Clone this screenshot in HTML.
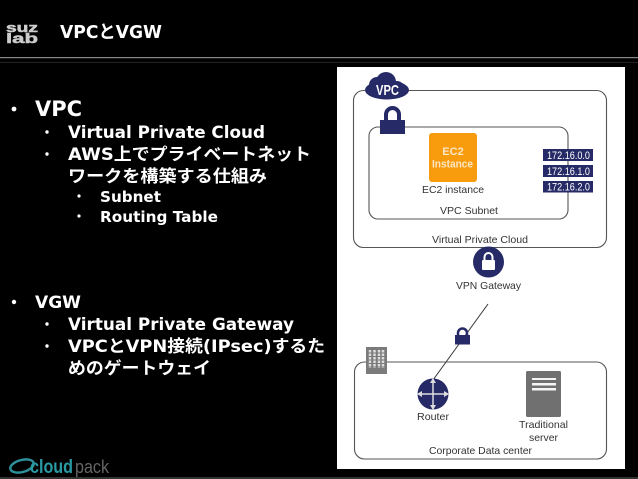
<!DOCTYPE html>
<html><head><meta charset="utf-8"><style>
html,body{margin:0;padding:0;background:#000;width:638px;height:479px;overflow:hidden}
svg{display:block;filter:blur(.3px)}
.t{font-family:"DejaVu Sans","Noto Sans CJK JP",sans-serif;font-weight:bold;fill:#fff}
.d{font-family:"Liberation Sans",sans-serif;font-size:10.500px;fill:#333}
</style></head><body>
<svg width="638" height="479" viewBox="0 0 638 479" xmlns="http://www.w3.org/2000/svg">
<rect width="638" height="479" fill="#000"/>
<rect y="57" width="638" height="1.200" fill="#888"/>
<rect y="62" width="638" height="1" fill="#222"/>
<rect y="477" width="638" height="2" fill="#333"/>
<text x="6" y="32" font-family="'Liberation Sans',sans-serif" font-weight="bold" font-size="13" fill="#ccc" textLength="32" lengthAdjust="spacingAndGlyphs" stroke="#ccc" stroke-width=".5">suz</text>
<text x="6" y="43" font-family="'Liberation Sans',sans-serif" font-weight="bold" font-size="14" fill="#ccc" textLength="32" lengthAdjust="spacingAndGlyphs" stroke="#ccc" stroke-width=".5">lab</text>
<text class="t" x="60" y="38" font-size="18" textLength="102" lengthAdjust="spacingAndGlyphs">VPCとVGW</text>
<g fill="#fff">
<circle cx="14" cy="109" r="2.400"/><circle cx="47" cy="132" r="1.700"/><circle cx="47" cy="154" r="1.700"/><circle cx="79" cy="196" r="1.600"/><circle cx="79" cy="216" r="1.600"/>
<circle cx="14" cy="302" r="2.200"/><circle cx="47" cy="324" r="1.700"/><circle cx="47" cy="346" r="1.700"/>
</g>
<text class="t" x="35" y="116" font-size="21" textLength="47" lengthAdjust="spacingAndGlyphs">VPC</text>
<text class="t" x="68" y="138" font-size="17" textLength="197" lengthAdjust="spacingAndGlyphs">Virtual Private Cloud</text>
<text class="t" x="68" y="160" font-size="17" textLength="243" lengthAdjust="spacingAndGlyphs">AWS上でプライベートネット</text>
<text class="t" x="68" y="182" font-size="17" textLength="199" lengthAdjust="spacingAndGlyphs">ワークを構築する仕組み</text>
<text class="t" x="100" y="202" font-size="15" textLength="61" lengthAdjust="spacingAndGlyphs">Subnet</text>
<text class="t" x="100" y="222" font-size="15" textLength="118" lengthAdjust="spacingAndGlyphs">Routing Table</text>
<text class="t" x="35" y="308" font-size="17" textLength="46" lengthAdjust="spacingAndGlyphs">VGW</text>
<text class="t" x="68" y="330" font-size="17" textLength="226" lengthAdjust="spacingAndGlyphs">Virtual Private Gateway</text>
<text class="t" x="68" y="352" font-size="17" textLength="257" lengthAdjust="spacingAndGlyphs">VPCとVPN接続(IPsec)するた</text>
<text class="t" x="68" y="374" font-size="17" textLength="143" lengthAdjust="spacingAndGlyphs">めのゲートウェイ</text>
<!-- cloudpack logo -->
<ellipse cx="22" cy="466" rx="12" ry="6" fill="none" stroke="#2d8f98" stroke-width="2.500" transform="rotate(-15 22 466)"/>
<text x="30" y="473" font-family="'Liberation Sans',sans-serif" font-weight="bold" font-size="19" fill="#2a9aa5" textLength="43" lengthAdjust="spacingAndGlyphs">cloud</text>
<text x="75" y="473" font-family="'Liberation Sans',sans-serif" font-size="18" fill="#666" textLength="34" lengthAdjust="spacingAndGlyphs">pack</text>
<!-- panel -->
<rect x="337" y="67" width="288" height="402" fill="#fff"/>
<rect x="353.500" y="90.500" width="253" height="157" rx="10" fill="none" stroke="#555" stroke-width="1.100"/>
<rect x="369" y="127" width="199" height="92" rx="9" fill="none" stroke="#555" stroke-width="1.100"/>
<g fill="#262a66">
<ellipse cx="387" cy="90" rx="22" ry="9.500"/><circle cx="377" cy="85" r="8"/><circle cx="386" cy="82" r="10"/><circle cx="397" cy="88" r="7"/>
<rect x="380" y="120" width="25" height="14"/>
</g>
<path d="M386 121v-6.500a6.500 6.500 0 0 1 13 0v6.500" fill="none" stroke="#262a66" stroke-width="4"/>
<text x="376" y="95" font-family="'Liberation Sans',sans-serif" font-size="15" font-weight="bold" fill="#fff" textLength="23" lengthAdjust="spacingAndGlyphs">VPC</text>
<rect x="429" y="133" width="48" height="49" rx="3" fill="#f89c0e"/>
<text x="453" y="155" text-anchor="middle" font-family="'Liberation Sans',sans-serif" font-size="11" font-weight="bold" fill="#fde6c4">EC2</text>
<text x="432" y="167.500" font-family="'Liberation Sans',sans-serif" font-size="11" font-weight="bold" fill="#fde6c4" textLength="41" lengthAdjust="spacingAndGlyphs">Instance</text>
<text class="d" x="422" y="193" textLength="62" lengthAdjust="spacingAndGlyphs">EC2 instance</text>
<text class="d" x="440" y="214" textLength="58" lengthAdjust="spacingAndGlyphs">VPC Subnet</text>
<text class="d" x="432" y="243" textLength="96" lengthAdjust="spacingAndGlyphs">Virtual Private Cloud</text>
<g fill="#262a66"><rect x="543" y="149" width="50" height="12"/><rect x="543" y="165" width="50" height="12"/><rect x="543" y="181" width="50" height="11.500"/></g>
<g font-family="'Liberation Sans',sans-serif" font-size="11" fill="#fff">
<text x="547" y="159" textLength="43" lengthAdjust="spacingAndGlyphs">172.16.0.0</text><text x="547" y="175" textLength="43" lengthAdjust="spacingAndGlyphs">172.16.1.0</text><text x="547" y="190.500" textLength="43" lengthAdjust="spacingAndGlyphs">172.16.2.0</text>
</g>
<!-- gateway -->
<circle cx="488.500" cy="262" r="15.500" fill="#262a66"/>
<rect x="482" y="260" width="13" height="10" rx="1" fill="#fff"/>
<path d="M484.500 261v-4a4 4 0 0 1 8 0v4" fill="none" stroke="#fff" stroke-width="2"/>
<text class="d" x="456" y="289" textLength="65" lengthAdjust="spacingAndGlyphs">VPN Gateway</text>
<line x1="488" y1="304" x2="433" y2="380" stroke="#333" stroke-width="1"/>
<rect x="455" y="335" width="15" height="9.500" fill="#262a66"/>
<path d="M458 336v-3a4.500 4.500 0 0 1 9 0v3" fill="none" stroke="#262a66" stroke-width="2.500"/>
<!-- corporate -->
<rect x="354.500" y="362" width="252" height="97" rx="10" fill="none" stroke="#555" stroke-width="1.100"/>
<rect x="366" y="347" width="21" height="27" fill="#7b7b7b"/>
<g stroke="#ddd" stroke-width="2.500" stroke-dasharray="2.500 1">
<line x1="370" y1="350" x2="370" y2="368"/><line x1="374.500" y1="350" x2="374.500" y2="368"/><line x1="379" y1="350" x2="379" y2="368"/><line x1="383" y1="350" x2="383" y2="368"/>
</g>
<circle cx="433" cy="394" r="15.500" fill="#262a66"/>
<g stroke="#ddd" stroke-width="1.500"><line x1="433" y1="379" x2="433" y2="409"/><line x1="418" y1="394" x2="448" y2="394"/></g>
<g fill="#ddd">
<path d="M433 378l-3 5h6z"/><path d="M433 410l-3-5h6z"/><path d="M417 394l5-3v6z"/><path d="M449 394l-5-3v6z"/>
</g>
<text class="d" x="417" y="420" textLength="32" lengthAdjust="spacingAndGlyphs">Router</text>
<rect x="526" y="371" width="35" height="46" rx="1.500" fill="#707070"/>
<g fill="#f4f4f4"><rect x="532" y="378" width="24" height="2"/><rect x="532" y="383" width="24" height="2.500"/><rect x="532" y="388" width="24" height="2.500"/></g>
<text class="d" x="519" y="428" textLength="49" lengthAdjust="spacingAndGlyphs">Traditional</text>
<text class="d" x="529" y="441" textLength="29" lengthAdjust="spacingAndGlyphs">server</text>
<text class="d" x="429" y="454" textLength="103" lengthAdjust="spacingAndGlyphs">Corporate Data center</text>
</svg>
</body></html>
